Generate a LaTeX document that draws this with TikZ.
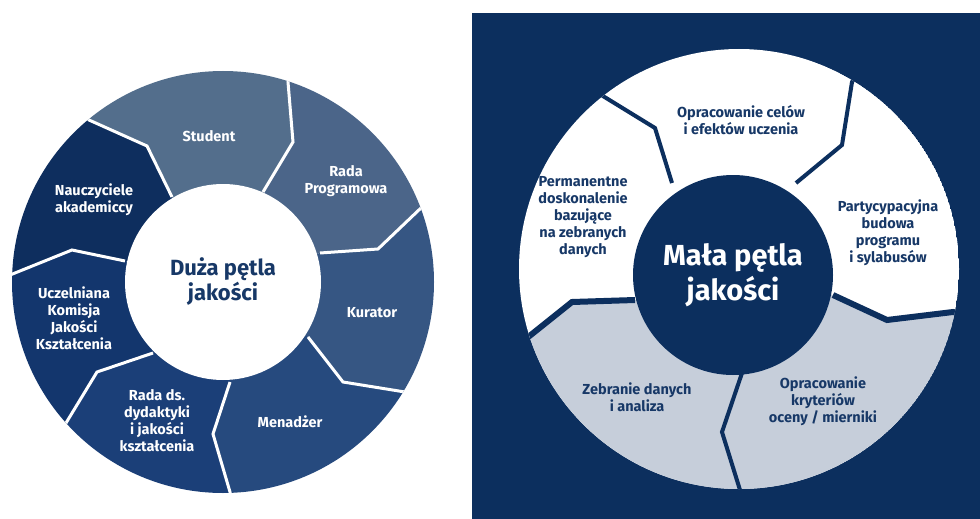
\documentclass[tikz,border=0pt]{standalone}
\usepackage{fontspec}
\setmainfont{Fira Sans}
\usetikzlibrary{calc}
\definecolor{bgnavy}{HTML}{0C2F5E}
\definecolor{txtnavy}{HTML}{173867}
\definecolor{greyseg}{HTML}{C6CEDA}
\definecolor{segA}{HTML}{536E8C}
\definecolor{segB}{HTML}{4B6589}
\definecolor{segC}{HTML}{365683}
\definecolor{segD}{HTML}{264A7E}
\definecolor{segE}{HTML}{1B3F78}
\definecolor{segF}{HTML}{13366D}
\definecolor{segG}{HTML}{0E2E5E}

\begin{document}
\begin{tikzpicture}[x=1pt, y=-1pt, hub/.style={circle, inner sep=0pt, align=center, font=\fontsize{22}{25}\selectfont\bfseries}, lbl/.style={align=center, inner sep=0pt, text=white, font=\fontsize{14.5}{17}\selectfont\bfseries}, dlbl/.style={lbl, text=txtnavy}, wline/.style={draw=white, line width=3pt}, nline/.style={draw=bgnavy, line width=4pt}]
            \useasboundingbox (0,0) rectangle (980,519);
            % left loop: centre and borders (inner, kink, outer)
            \coordinate (L) at (223,282);
            \coordinate (a1) at (263,192); \coordinate (b1) at (293,142); \coordinate (c1) at (288,82);
            \coordinate (a2) at (320,253); \coordinate (b2) at (378,249); \coordinate (c2) at (422,207);
            \coordinate (a3) at (308,337); \coordinate (b3) at (343,382); \coordinate (c3) at (405,392);
            \coordinate (a4) at (230,382); \coordinate (b4) at (213,434); \coordinate (c4) at (230,492);
            \coordinate (a5) at (153,353); \coordinate (b5) at (97,372); \coordinate (c5) at (66,423);
            \coordinate (a6) at (125,261); \coordinate (b6) at (72,250); \coordinate (c6) at (10,275);
            \coordinate (a7) at (172,197); \coordinate (b7) at (147,146); \coordinate (c7) at (89,120);
            \begin{scope}
                \clip (L) circle[radius=211pt];
                \fill[segA] (L) -- (a7) -- (b7) -- (c7) -- ($(L)!2!(c7)$) -- ($(L)!2!(c1)$) -- (c1) -- (b1) -- (a1) -- cycle;
                \fill[segB] (L) -- (a1) -- (b1) -- (c1) -- ($(L)!2!(c1)$) -- ($(L)!2!(c2)$) -- (c2) -- (b2) -- (a2) -- cycle;
                \fill[segC] (L) -- (a2) -- (b2) -- (c2) -- ($(L)!2!(c2)$) -- ($(L)!2!(c3)$) -- (c3) -- (b3) -- (a3) -- cycle;
                \fill[segD] (L) -- (a3) -- (b3) -- (c3) -- ($(L)!2!(c3)$) -- ($(L)!2!(c4)$) -- (c4) -- (b4) -- (a4) -- cycle;
                \fill[segE] (L) -- (a4) -- (b4) -- (c4) -- ($(L)!2!(c4)$) -- ($(L)!2!(c5)$) -- (c5) -- (b5) -- (a5) -- cycle;
                \fill[segF] (L) -- (a5) -- (b5) -- (c5) -- ($(L)!2!(c5)$) -- ($(L)!2!(c6)$) -- (c6) -- (b6) -- (a6) -- cycle;
                \fill[segG] (L) -- (a6) -- (b6) -- (c6) -- ($(L)!2!(c6)$) -- ($(L)!2!(c7)$) -- (c7) -- (b7) -- (a7) -- cycle;
                \draw[wline] (a1) -- (b1) -- (c1) -- ($(L)!2!(c1)$);
                \draw[wline] (a2) -- (b2) -- (c2) -- ($(L)!2!(c2)$);
                \draw[wline] (a3) -- (b3) -- (c3) -- ($(L)!2!(c3)$);
                \draw[wline] (a4) -- (b4) -- (c4) -- ($(L)!2!(c4)$);
                \draw[wline] (a5) -- (b5) -- (c5) -- ($(L)!2!(c5)$);
                \draw[wline] (a6) -- (b6) -- (c6) -- ($(L)!2!(c6)$);
                \draw[wline] (a7) -- (b7) -- (c7) -- ($(L)!2!(c7)$);
            \end{scope}
            \node[hub, fill=white, text=txtnavy, minimum size=196pt] (duza) at (L) {Duża pętla\\jakości};
            % left labels
            \node[lbl] (student) at (209,136) {Student};
            \node[lbl] (radaprog) at (346,181) {Rada\\Programowa};
            \node[lbl] (kurator) at (372,313) {Kurator};
            \node[lbl] (menadzer) at (290,422) {Menadżer};
            \node[lbl] (radads) at (157,421) {Rada ds.\\dydaktyki\\i jakości\\kształcenia};
            \node[lbl] (ukjk) at (74,318) {Uczelniana\\Komisja\\Jakości\\Kształcenia};
            \node[lbl] (nauczyciele) at (94,200) {Nauczyciele\\akademiccy};
            % right panel
            \fill[bgnavy] (472,13) rectangle (980,519);
            \coordinate (M) at (739,269);
            \coordinate (d1) at (672,183); \coordinate (e1) at (655,128); \coordinate (f1) at (598,93);
            \coordinate (d2) at (796,183); \coordinate (e2) at (842,145); \coordinate (f2) at (852,82);
            \coordinate (d3) at (833,295); \coordinate (e3) at (887,320); \coordinate (f3) at (953,312);
            \coordinate (d4) at (742,373); \coordinate (e4) at (722,432); \coordinate (f4) at (740,490);
            \coordinate (d5) at (635,300); \coordinate (e5) at (572,302); \coordinate (f5) at (522,342);
            \begin{scope}
                \clip (M) circle[radius=220pt];
                \fill[white] (M) circle[radius=220pt];
                \fill[greyseg] (M) -- (d3) -- (e3) -- (f3) -- ($(M)!2!(f3)$) -- ($(M)!2!(f4)$) -- ($(M)!2!(f5)$) -- (f5) -- (e5) -- (d5) -- cycle;
                \draw[nline] (d1) -- (e1) -- (f1) -- ($(M)!2!(f1)$);
                \draw[nline] (d2) -- (e2) -- (f2) -- ($(M)!2!(f2)$);
                \draw[nline, line width=6pt] (d3) -- (e3) -- (f3) -- ($(M)!2!(f3)$);
                \draw[nline] (d4) -- (e4) -- (f4) -- ($(M)!2!(f4)$);
                \draw[nline, line width=6pt] (d5) -- (e5) -- (f5) -- ($(M)!2!(f5)$);
            \end{scope}
            \node[hub, fill=bgnavy, text=white, minimum size=200pt, font=\fontsize{29}{35}\selectfont\bfseries] (mala) at (733,275) {Mała pętla\\jakości};
            % right labels
            \node[dlbl] (cele) at (741,120) {Opracowanie celów\\i efektów uczenia};
            \node[dlbl] (partycyp) at (888,233) {Partycypacyjna\\budowa\\programu\\i sylabusów};
            \node[dlbl] (kryteria) at (823,401) {Opracowanie\\kryteriów\\oceny / mierniki};
            \node[dlbl] (zebranie) at (637,397) {Zebranie danych\\i analiza};
            \node[dlbl] (permanentne) at (583,217) {Permanentne\\doskonalenie\\bazujące\\na zebranych\\danych};
        \end{tikzpicture}
\end{document}
